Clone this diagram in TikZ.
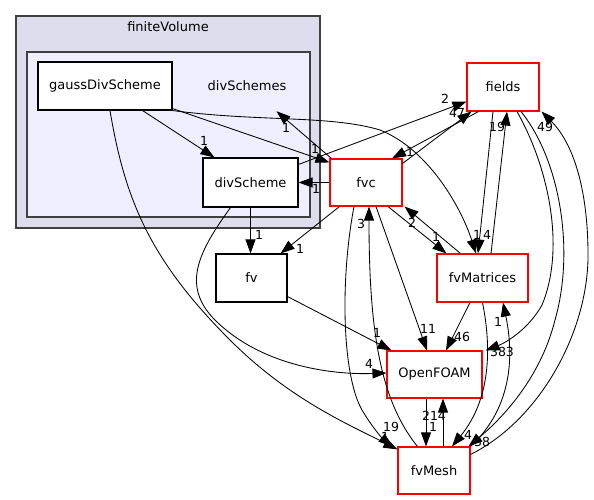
\documentclass[tikz,border=0pt]{standalone}
\usepackage{fontspec}
\setmainfont{DejaVu Sans}
\usepackage[svgnames]{xcolor}
\usetikzlibrary{calc, arrows.meta}
\definecolor{clusterout}{HTML}{DDDDEE}
\definecolor{clusterin}{HTML}{EEEEFF}
\definecolor{clusterline}{HTML}{404040}
\tikzset{>={Triangle[length=14pt,width=10pt]}}
\tikzset{
  dirbox/.style={draw=black, line width=1.1pt, fill=white, inner sep=0pt,
    font=\fontsize{13}{15}\selectfont},
  redbox/.style={dirbox, draw=red},
  lbl/.style={inner sep=0pt, font=\fontsize{12.5}{14}\selectfont},
  dep/.style={->, line width=0.85pt}
}

\begin{document}
\begin{tikzpicture}[x=1pt, y=-1pt]
    \useasboundingbox (0,0) rectangle (594,500);
    \draw[clusterline, fill=clusterout, line width=1.2pt] (16,16) rectangle (320,228);
    \node[lbl, font=\fontsize{13}{15}\selectfont] (finiteVolume) at (168,27) {finiteVolume};
    \draw[clusterline, fill=clusterin, line width=1.2pt] (27,52) rectangle (310,217);
    \node[lbl, font=\fontsize{13}{15}\selectfont] (divSchemes) at (247,86) {divSchemes};

    \node[dirbox, minimum width=134pt, minimum height=48pt] (gaussDivScheme) at (105,86) {gaussDivScheme};
    \node[dirbox, minimum width=95pt, minimum height=49pt] (divScheme) at (250.5,182.5) {divScheme};
    \node[redbox, minimum width=72pt, minimum height=47pt] (fvc) at (366,182.5) {fvc};
    \node[redbox, minimum width=72pt, minimum height=48pt] (fields) at (503,87) {fields};
    \node[dirbox, minimum width=71pt, minimum height=48pt] (fv) at (251.5,278) {fv};
    \node[redbox, minimum width=91pt, minimum height=48pt] (fvMatrices) at (482.5,278) {fvMatrices};
    \node[redbox, minimum width=95pt, minimum height=47pt] (OpenFOAM) at (434.5,374.5) {OpenFOAM};
    \node[redbox, minimum width=72pt, minimum height=47pt] (fvMesh) at (434,470.5) {fvMesh};

    % gaussDivScheme
    \draw[dep] ([xshift=-30pt]gaussDivScheme.south east) -- ([xshift=12pt]divScheme.north west);
    \node[lbl] at (204,141) {1};
    \draw[dep] ([yshift=2pt]gaussDivScheme.south east) -- ([yshift=-4pt]fvc.north west);
    \node[lbl] at (315,149) {1};
    \draw[dep] (gaussDivScheme.south east) .. controls (260,122) and (330,115) .. (380,130)
        .. controls (430,150) and (462,210) .. ([xshift=-6.5pt]fvMatrices.north);
    \node[lbl] at (477,235) {1};
    \draw[dep] ([xshift=5pt]gaussDivScheme.south) .. controls (125,200) and (150,260) .. (230,340)
        .. controls (290,400) and (350,425) .. ([yshift=-3pt]fvMesh.north west);
    \node[lbl] at (385,437) {1};

    % divScheme
    \draw[dep] ([yshift=-7pt]divScheme.north east) -- ([yshift=10pt]fields.south west);
    \node[lbl] at (445,99) {2};
    \draw[dep] (divScheme.south) -- (divScheme.south |- fv.north);
    \node[lbl] at (259,235) {1};
    \draw[dep] ([xshift=-20pt]divScheme.south) .. controls (200,250) and (180,285) .. (215,320)
        .. controls (260,365) and (330,375) .. ([yshift=1.5pt]OpenFOAM.west);
    \node[lbl] at (369,364) {4};

    % fvc
    \draw[dep] (fvc.west) -- (divScheme.east);
    \node[lbl] at (316,189) {1};
    \draw[dep] ([xshift=2pt]fvc.north west) -- ([xshift=-10pt,yshift=-20pt]divSchemes.south east);
    \node[lbl] at (286,128) {1};
    \draw[dep] ([xshift=12pt]fields.south west) -- ([xshift=26pt]fvc.north);
    \node[lbl] at (410,152) {1};
    \draw[dep] ([yshift=-5pt]fvc.north east) -- ([xshift=5pt]fields.south west);
    \node[lbl] at (457,113) {47};
    \draw[dep] ([xshift=10pt]fvc.south west) -- ([xshift=-7pt]fv.north east);
    \node[lbl] at (300,249) {1};
    \draw[dep] ([xshift=22pt]fvc.south) -- ([xshift=10pt]fvMatrices.north west);
    \node[lbl] at (436,237) {1};
    \draw[dep] ([xshift=24pt]fvMatrices.north west) -- ([xshift=2pt]fvc.south east);
    \node[lbl] at (412,223) {2};
    \draw[dep] ([xshift=10pt]fvc.south) -- ([xshift=-7.5pt]OpenFOAM.north);
    \node[lbl] at (428,329) {11};
    \draw[dep] ([xshift=-12pt]fvc.south) .. controls (340,280) and (342,375) .. (362,410)
        .. controls (372,427) and (382,438) .. ([xshift=-5pt]fvMesh.north west);
    \node[lbl] at (391,427) {19};
    \draw[dep] ([xshift=20pt]fvMesh.north west) .. controls (380,400) and (369,330) .. ([xshift=3pt]fvc.south);
    \node[lbl] at (361,224) {3};

    % fv, OpenFOAM
    \draw[dep] ([yshift=6pt]fv.south east) -- ([xshift=5pt]OpenFOAM.north west);
    \node[lbl] at (377,333) {1};
    \draw[dep] ([xshift=-8.5pt]OpenFOAM.south) -- ([xshift=-8pt]fvMesh.north);
    \node[lbl] at (434,416) {214};
    \draw[dep] ([xshift=9pt]fvMesh.north) -- ([xshift=8.5pt]OpenFOAM.south);
    \node[lbl] at (433,427) {1};

    % fields
    \draw[dep] ([xshift=-10pt]fields.south) -- ([xshift=-4.5pt]fvMatrices.north);
    \node[lbl] at (487,235) {4};
    \draw[dep] ([xshift=8.5pt]fvMatrices.north) -- ([xshift=4pt]fields.south);
    \node[lbl] at (497,127) {19};
    \draw[dep] ([xshift=14pt]fields.south) .. controls (550,170) and (565,250) .. (542,305)
        .. controls (528,330) and (505,343) .. ([xshift=3pt]OpenFOAM.north east);
    \node[lbl] at (502,352) {383};
    \draw[dep] ([xshift=18pt]fields.south) .. controls (560,160) and (575,250) .. (555,320)
        .. controls (540,380) and (500,420) .. ([xshift=-2pt]fvMesh.north east);
    \node[lbl] at (482,442) {38};
    \draw[dep] ([yshift=-8pt]fvMesh.north east) .. controls (540,420) and (590,330) .. (588,250)
        .. controls (587,180) and (570,140) .. ([xshift=2pt]fields.south east);
    \node[lbl] at (545,127) {49};

    % fvMatrices
    \draw[dep] ([xshift=-12.5pt]fvMatrices.south) -- ([xshift=11.5pt]OpenFOAM.north);
    \node[lbl] at (462,337) {46};
    \draw[dep] (fvMatrices.south) .. controls (492,350) and (490,400) .. ([xshift=18pt]fvMesh.north);
    \node[lbl] at (468,435) {4};
    \draw[dep] (fvMesh.north east) .. controls (510,410) and (515,360) .. ([xshift=20.5pt]fvMatrices.south);
    \node[lbl] at (498,322) {1};
\end{tikzpicture}
\end{document}
